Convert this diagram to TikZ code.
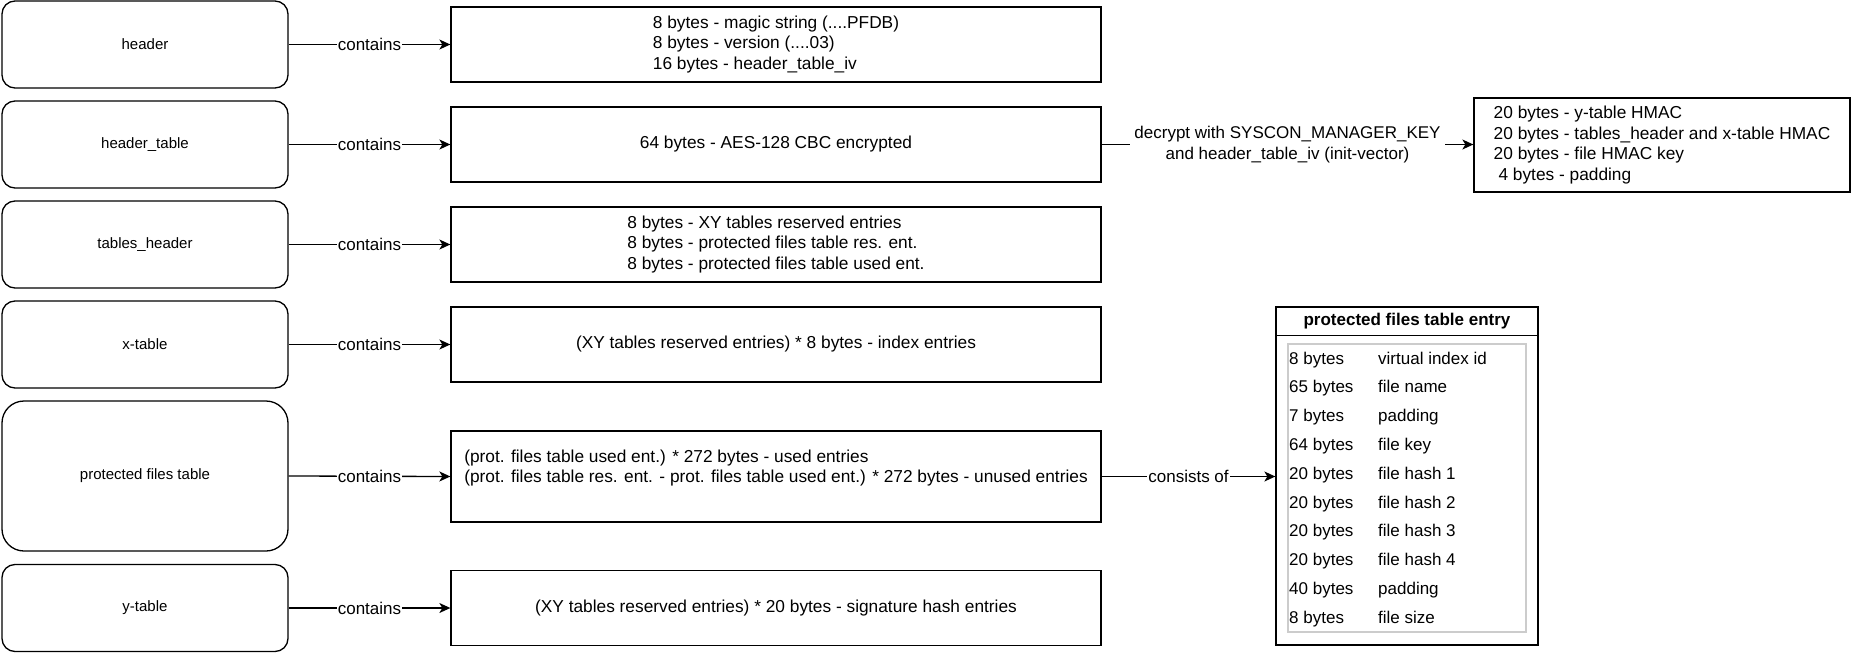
\documentclass[tikz,border=0pt]{standalone}
\usepackage{fontspec}
\setmainfont{Liberation Sans}
\usetikzlibrary{arrows.meta}
\begin{document}
\begin{tikzpicture}[x=1pt,y=-1pt,
  part/.style={draw, line width=1.3pt, rounded corners=13pt, minimum width=286pt, minimum height=87pt,
    font=\fontsize{15}{18}\selectfont},
  content/.style={draw, line width=1.3pt, minimum width=650pt, minimum height=75pt, align=left,
    font=\fontsize{17.3}{20.6}\selectfont},
  lbl/.style={fill=white, inner sep=1pt, font=\fontsize{17}{20.6}\selectfont},
  link/.style={line width=1.3pt, -{Stealth[length=11pt,width=10pt,inset=3pt]}},
  row/.style={anchor=base west, inner sep=0pt, font=\fontsize{17}{20}\selectfont},
]
\useasboundingbox (0,0) rectangle (1864,653);

% file sections
\node[part] (header)  at (145,44.5)  {header};
\node[part] (htable)  at (145,144.5) {header\_table};
\node[part] (theader) at (145,244.5) {tables\_header};
\node[part] (xtable)  at (145,344.5) {x-table};
\node[part, minimum height=150pt, rounded corners=22pt] (pft) at (145,476) {protected files table};
\node[part] (ytable)  at (145,608)   {y-table};

% section contents
\node[content] (c1) at (776,44.5) {8 bytes - magic string (....PFDB)\\8 bytes - version (....03)\\16 bytes - header\_table\_iv};
\node[content] (c2) at (776,144.5) {64 bytes - AES-128 CBC encrypted};
\node[content] (c3) at (776,244.5) {8 bytes - XY tables reserved entries\\8 bytes - protected files table res. ent.\\8 bytes - protected files table used ent.};
\node[content] (c4) at (776,344.5) {(XY tables reserved entries) * 8 bytes - index entries};
\node[content, minimum height=91pt] (c5) at (776,476.5) {(prot. files table used ent.) * 272 bytes - used entries\\(prot. files table res. ent. - prot. files table used ent.) * 272 bytes - unused entries\\\mbox{}};
\node[content] (c6) at (776,608) {(XY tables reserved entries) * 20 bytes - signature hash entries};

% decrypted header table
\node[content, minimum width=376pt, minimum height=94pt] (dec) at (1662,145) {20 bytes - y-table HMAC\\20 bytes - tables\_header and x-table HMAC\\20 bytes - file HMAC key\\\ 4 bytes - padding};

% protected files table entry
\node[draw, line width=1.3pt, minimum width=262pt, minimum height=338pt] (entry) at (1407,476) {};
\draw[line width=1.3pt] (entry.north west) ++(0,29) coordinate (sepL) -- (sepL -| entry.east);
\node[font=\bfseries\fontsize{17}{20}\selectfont] (etitle) at (1407,321) {protected files table entry};
\node[draw=black!20, line width=1.3pt, minimum width=238pt, minimum height=288pt] (elist) at (1407,488) {};
\foreach \i/\sz/\what in {0/8 bytes/virtual index id, 1/65 bytes/file name, 2/7 bytes/padding,
    3/64 bytes/file key, 4/20 bytes/file hash 1, 5/20 bytes/file hash 2, 6/20 bytes/file hash 3,
    7/20 bytes/file hash 4, 8/40 bytes/padding, 9/8 bytes/file size} {
  \node[row] (sz\i) at (1289,{364+28.8*\i}) {\sz};
  \node[row] (wh\i) at (1378,{364+28.8*\i}) {\what};
}

% connectors
\draw[link] (header.east)  -- node[lbl] {contains} (c1.west);
\draw[link] (htable.east)  -- node[lbl] {contains} (c2.west);
\draw[link] (theader.east) -- node[lbl] {contains} (c3.west);
\draw[link] (xtable.east)  -- node[lbl] {contains} (c4.west);
\draw[link] (pft.east)     -- node[lbl] {contains} (c5.west);
\draw[link] (ytable.east)  -- node[lbl] {contains} (c6.west);
\draw[link] (c2.east) -- node[lbl, align=center, inner sep=4pt] {decrypt with SYSCON\_MANAGER\_KEY\\and header\_table\_iv (init-vector)} (c2.east -| dec.west);
\draw[link] (c5.east) -- node[lbl] {consists of} (c5.east -| entry.west);
\end{tikzpicture}
\end{document}
